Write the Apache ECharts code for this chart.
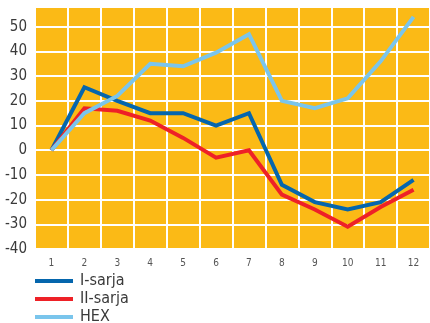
<!DOCTYPE html>
<html>
<head>
<meta charset="utf-8">
<script src="https://cdn.jsdelivr.net/npm/echarts@6/dist/echarts.min.js"></script>
<style>
  html, body { margin: 0; padding: 0; background: #ffffff; }
  #chart { width: 430px; height: 323px; }
</style>
</head>
<body>
<div id="chart"></div>
<script>
// Months 1..12
const categories = ['1', '2', '3', '4', '5', '6', '7', '8', '9', '10', '11', '12'];

const seriesNames = ['I-sarja', 'II-sarja', 'HEX'];
const iSarja  = [0, 25.5, 20, 15, 15, 10, 15, -14, -21, -24, -21, -12];
const iiSarja = [0, 17, 16, 12, 5, -3, 0, -18, -24, -31, -23, -16];
const hex     = [0, 15, 22, 35, 34, 39.5, 47, 20, 17, 21, 36, 54];

const yTicks = { min: -40, max: 58, interval: 10 };

const colors = ['#0566ad', '#ee2127', '#7ac5ec'];
const labelFont = '"Liberation Sans Narrow", "DejaVu Sans Condensed", "Roboto", sans-serif';

const chart = echarts.init(document.getElementById('chart'), null, { renderer: 'canvas' });

chart.setOption({
  animation: false,
  backgroundColor: '#ffffff',
  grid: {
    left: 35,
    top: 7,
    width: 402,
    bottom: 74,
    show: true,
    backgroundColor: '#fbba16',
    borderWidth: 0
  },
  legend: {
    orient: 'vertical',
    left: 35,
    top: 273,
    height: 80,
    padding: 0,
    icon: 'rect',
    itemWidth: 38,
    itemHeight: 4,
    itemGap: 2,
    data: seriesNames,
    textStyle: {
      fontFamily: labelFont,
      fontSize: 16,
      lineHeight: 14,
      color: '#3a3a3a',
      padding: [0, 0, 0, 2]
    }
  },
  xAxis: {
    type: 'category',
    data: categories,
    boundaryGap: true,
    axisLine: { show: false },
    axisTick: { show: false },
    axisLabel: {
      margin: 9,
      fontFamily: labelFont,
      fontSize: 10,
      color: '#555555'
    },
    splitLine: {
      show: true,
      interval: 0,
      lineStyle: { color: '#ffffff', width: 2 }
    }
  },
  yAxis: {
    type: 'value',
    min: yTicks.min,
    max: yTicks.max,
    interval: yTicks.interval,
    axisLine: { show: false },
    axisTick: { show: false },
    axisLabel: {
      margin: 8,
      showMaxLabel: false,
      fontFamily: labelFont,
      fontSize: 15,
      color: '#3a3a3a',
      formatter: v => (v % 10 === 0 ? String(v) : '')
    },
    splitLine: {
      show: true,
      lineStyle: { color: '#ffffff', width: 2 }
    }
  },
  series: [
    { name: seriesNames[0], data: iSarja,  color: colors[0] },
    { name: seriesNames[1], data: iiSarja, color: colors[1] },
    { name: seriesNames[2], data: hex,     color: colors[2] }
  ].map(s => ({
    name: s.name,
    type: 'line',
    data: s.data,
    symbol: 'none',
    itemStyle: { color: s.color },
    lineStyle: { color: s.color, width: 4, join: 'miter' }
  }))
});
</script>
</body>
</html>
